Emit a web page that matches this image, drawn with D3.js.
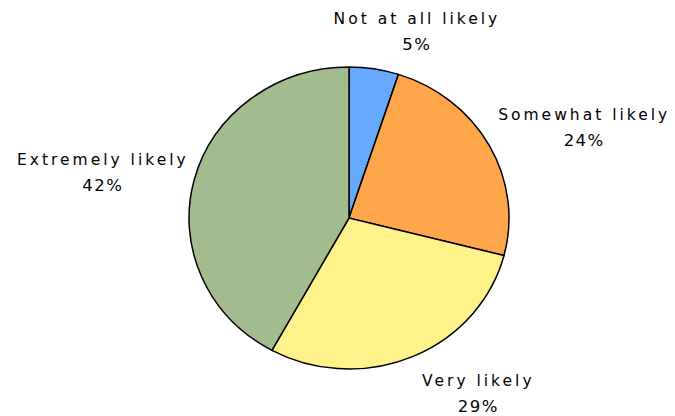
<!DOCTYPE html>
<head>
<meta charset="utf-8">
<style>
  html,body {
    margin: 0;
    background: #fff;
    font-family: "DejaVu Sans", Verdana, sans-serif;
  }
</style>
<script src="https://d3js.org/d3.v7.min.js"></script>
</head>
<body>
<div id="pie_viz"></div>
<script>
// data
var categories = ["Not at all likely", "Somewhat likely", "Very likely", "Extremely likely"];
var percents = [5, 24, 29, 42];
var sliceColors = ["#66aaff", "#ffa54a", "#fff28a", "#a2bc8f"];

var width = 675, height = 416;
var cx = 349, cy = 218, rx = 160, ry = 151;

var svg = d3.select("#pie_viz")
  .append("svg")
    .attr("width", width)
    .attr("height", height);

var pie = d3.pie().sort(null).value(function(d){ return d; });
var arcs = pie(percents);

var arc = d3.arc().innerRadius(0).outerRadius(rx);

// pie is a bit squashed vertically in the original
var g = svg.append("g")
  .attr("transform", "translate(" + cx + "," + cy + ") scale(1," + (ry / rx) + ")");

g.selectAll("path")
  .data(arcs)
  .enter()
  .append("path")
    .attr("d", arc)
    .attr("fill", function(d, i){ return sliceColors[i]; })
    .attr("stroke", "#000")
    .attr("stroke-width", 1.5)
    .attr("vector-effect", "non-scaling-stroke");

// labels: placed outside the ellipse at the slice mid angle, pushed out by half the box
var fontSize = 15.5, ls = 3;
var labelNudge = [26, 5, 36, 5];   // small x tweaks, the old chart engine did its own thing

var labels = svg.append("g")
  .style("font-size", fontSize + "px")
  .style("letter-spacing", ls + "px")
  .attr("fill", "#000");

arcs.forEach(function(d, i) {
  var a = (d.startAngle + d.endAngle) / 2;
  var lg = labels.append("text").attr("text-anchor", "middle");
  var t1 = lg.append("tspan").text(categories[i]);
  var w = t1.node().getComputedTextLength();
  var x = cx + (175 + w / 2) * Math.sin(a) + labelNudge[i] + ls / 2;
  var y = cy - (170 + 20) * Math.cos(a);
  t1.attr("x", x).attr("y", y - 6);
  lg.append("tspan").attr("x", x).attr("y", y + 20)
    .style("letter-spacing", "1.5px")
    .style("font-size", "16.5px")
    .text(percents[i] + "%");
});
</script>
</body>
</html>
